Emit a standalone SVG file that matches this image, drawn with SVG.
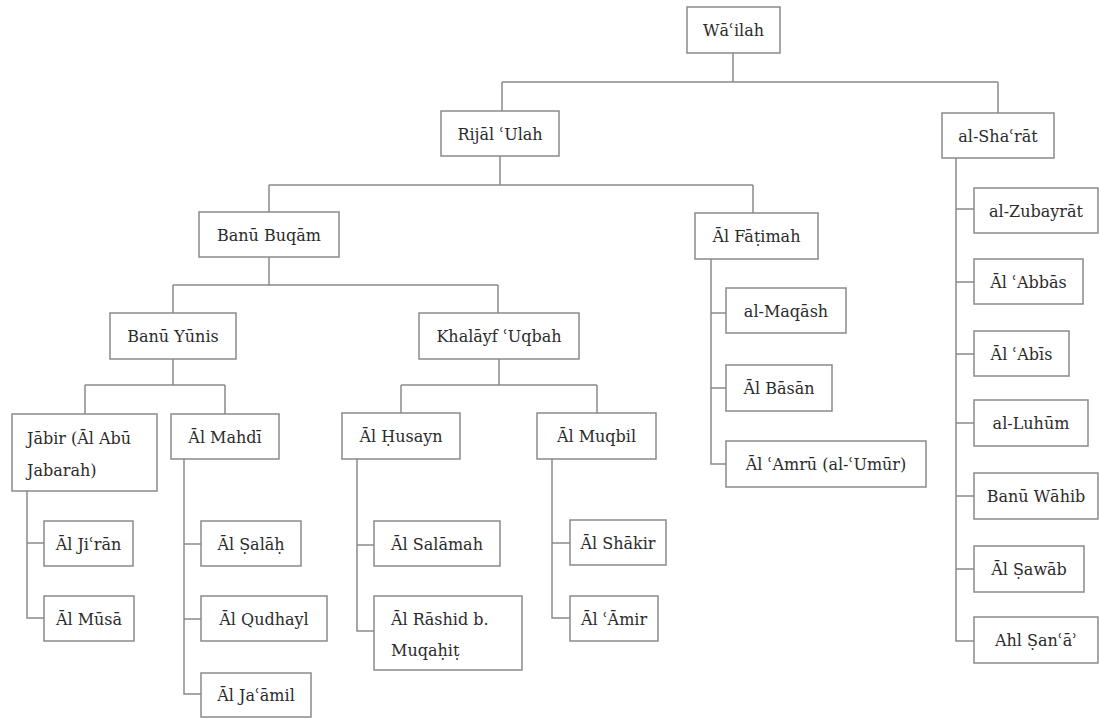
<svg xmlns="http://www.w3.org/2000/svg" width="1099" height="718" viewBox="0 0 1099 718">
<style>
.box{fill:#fff;stroke:#8a8a8a;stroke-width:1.5}
.lbl{font-family:'DejaVu Serif','Liberation Serif',serif;font-size:16px;fill:#2b2b2b;text-anchor:middle}
.lft{text-anchor:start}
.con{fill:none;stroke:#8a8a8a;stroke-width:1.5}
</style>
<rect width="1099" height="718" fill="#fff"/>
<g id="connectors" class="con">
<path d="M733 53V82M502 82H998M502 82V111M998 82V113"/>
<path d="M500 156V185M269 185H753M269 185V212M753 185V213"/>
<path d="M269 257V285M173 285H498M173 285V313M498 285V313"/>
<path d="M173 359V385M85 385H225M85 385V414M225 385V414"/>
<path d="M499 359V385M401 385H597M401 385V413M597 385V413"/>
<path d="M27 491V618H44M27 543H44"/>
<path d="M184 459V694H201M184 544H201M184 619H201"/>
<path d="M357 459V631H374M357 545H374"/>
<path d="M552 459V618H570M552 543H570"/>
<path d="M711 259V464H726M711 313H726M711 388H726"/>
<path d="M956 158V641H974M956 209H974M956 282H974M956 354H974M956 423H974M956 496H974M956 569H974"/>
</g>
<g id="n-wailah"><rect class="box" x="687" y="7" width="93" height="46"/><text class="lbl" x="733.5" y="36">Wāʿilah</text></g>
<g id="n-rijal"><rect class="box" x="441" y="111" width="118" height="45"/><text class="lbl" x="500" y="139.5">Rijāl ʿUlah</text></g>
<g id="n-sharat"><rect class="box" x="942" y="113" width="112" height="45"/><text class="lbl" x="998" y="141.5">al-Shaʿrāt</text></g>
<g id="n-buqam"><rect class="box" x="199" y="212" width="140" height="45"/><text class="lbl" x="269" y="240.5">Banū Buqām</text></g>
<g id="n-fatimah"><rect class="box" x="695" y="213" width="123" height="46"/><text class="lbl" x="756.5" y="242">Āl Fāṭimah</text></g>
<g id="n-yunis"><rect class="box" x="110" y="313" width="126" height="46"/><text class="lbl" x="173" y="342">Banū Yūnis</text></g>
<g id="n-khalayf"><rect class="box" x="419" y="313" width="160" height="46"/><text class="lbl" x="499" y="342">Khalāyf ʿUqbah</text></g>
<g id="n-maqash"><rect class="box" x="726" y="288" width="120" height="45"/><text class="lbl" x="786" y="316.5">al-Maqāsh</text></g>
<g id="n-basan"><rect class="box" x="726" y="365" width="106" height="46"/><text class="lbl" x="779" y="394">Āl Bāsān</text></g>
<g id="n-amru"><rect class="box" x="726" y="441" width="200" height="46"/><text class="lbl" x="826" y="470">Āl ʿAmrū (al-ʿUmūr)</text></g>
<g id="n-jabir"><rect class="box" x="12" y="414" width="145" height="77"/><text class="lbl lft" x="27" y="444">Jābir (Āl Abū</text><text class="lbl lft" x="27" y="476">Jabarah)</text></g>
<g id="n-mahdi"><rect class="box" x="171" y="414" width="108" height="45"/><text class="lbl" x="225" y="442.5">Āl Mahdī</text></g>
<g id="n-husayn"><rect class="box" x="342" y="413" width="118" height="46"/><text class="lbl" x="401" y="442">Āl Ḥusayn</text></g>
<g id="n-muqbil"><rect class="box" x="537" y="413" width="119" height="46"/><text class="lbl" x="596.5" y="442">Āl Muqbil</text></g>
<g id="n-jiran"><rect class="box" x="44" y="521" width="89" height="45"/><text class="lbl" x="88.5" y="549.5">Āl Jiʿrān</text></g>
<g id="n-musa"><rect class="box" x="44" y="596" width="90" height="45"/><text class="lbl" x="89" y="624.5">Āl Mūsā</text></g>
<g id="n-salah"><rect class="box" x="201" y="521" width="100" height="45"/><text class="lbl" x="251" y="549.5">Āl Ṣalāḥ</text></g>
<g id="n-qudhayl"><rect class="box" x="201" y="596" width="126" height="45"/><text class="lbl" x="264" y="624.5">Āl Qudhayl</text></g>
<g id="n-jaamil"><rect class="box" x="201" y="673" width="110" height="44"/><text class="lbl" x="256" y="701">Āl Jaʿāmil</text></g>
<g id="n-salamah"><rect class="box" x="374" y="521" width="126" height="45"/><text class="lbl" x="437" y="549.5">Āl Salāmah</text></g>
<g id="n-rashid"><rect class="box" x="374" y="596" width="148" height="74"/><text class="lbl lft" x="391" y="625">Āl Rāshid b.</text><text class="lbl lft" x="391" y="656">Muqaḥiṭ</text></g>
<g id="n-shakir"><rect class="box" x="570" y="520" width="96" height="45"/><text class="lbl" x="618" y="548.5">Āl Shākir</text></g>
<g id="n-amir"><rect class="box" x="570" y="596" width="88" height="45"/><text class="lbl" x="614" y="624.5">Āl ʿĀmir</text></g>
<g id="n-zubayrat"><rect class="box" x="974" y="188" width="124" height="45"/><text class="lbl" x="1036" y="216.5">al-Zubayrāt</text></g>
<g id="n-abbas"><rect class="box" x="974" y="259" width="109" height="45"/><text class="lbl" x="1028.5" y="287.5">Āl ʿAbbās</text></g>
<g id="n-abis"><rect class="box" x="974" y="331" width="95" height="45"/><text class="lbl" x="1021.5" y="359.5">Āl ʿAbīs</text></g>
<g id="n-luhum"><rect class="box" x="974" y="400" width="114" height="46"/><text class="lbl" x="1031" y="429">al-Luhūm</text></g>
<g id="n-wahib"><rect class="box" x="974" y="473" width="124" height="46"/><text class="lbl" x="1036" y="502">Banū Wāhib</text></g>
<g id="n-sawab"><rect class="box" x="974" y="546" width="110" height="46"/><text class="lbl" x="1029" y="575">Āl Ṣawāb</text></g>
<g id="n-sana"><rect class="box" x="974" y="617" width="124" height="46"/><text class="lbl" x="1036" y="646">Ahl Ṣanʿāʾ</text></g>
</svg>
